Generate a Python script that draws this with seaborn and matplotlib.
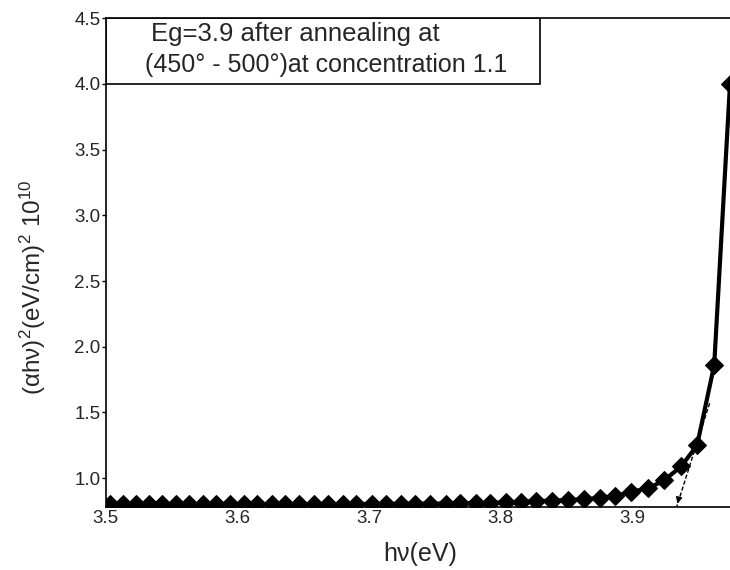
import matplotlib
matplotlib.use("Agg")
import matplotlib.pyplot as plt
import seaborn as sns
import pandas as pd
from matplotlib.patches import Rectangle

# photon energy (eV)
hv = [3.503, 3.513, 3.523, 3.533, 3.543, 3.553, 3.563, 3.574, 3.584, 3.594,
      3.605, 3.615, 3.626, 3.636, 3.647, 3.658, 3.669, 3.680, 3.690, 3.702,
      3.713, 3.724, 3.735, 3.746, 3.758, 3.769, 3.781, 3.792, 3.804, 3.815,
      3.827, 3.839, 3.851, 3.863, 3.875, 3.887, 3.899, 3.912, 3.924, 3.937,
      3.949, 3.962, 3.974]
# (alpha h nu)^2 x 1e10
ahv2 = [0.800, 0.800, 0.800, 0.800, 0.800, 0.800, 0.800, 0.800, 0.800, 0.800,
        0.800, 0.800, 0.800, 0.800, 0.800, 0.800, 0.802, 0.802, 0.802, 0.804,
        0.804, 0.804, 0.805, 0.806, 0.806, 0.808, 0.810, 0.812, 0.815, 0.820,
        0.825, 0.828, 0.834, 0.838, 0.850, 0.864, 0.896, 0.923, 0.983, 1.090,
        1.250, 1.860, 4.000]

xticks = [3.5, 3.6, 3.7, 3.8, 3.9]
yticks = [1.0, 1.5, 2.0, 2.5, 3.0, 3.5, 4.0, 4.5]
tangent_x = [3.9585, 3.9336]
tangent_y = [1.57, 0.785]
box_lines = ["Eg=3.9 after annealing at", "(450\u00b0 - 500\u00b0)at concentration 1.1"]

sns.set_theme(style="white")
plt.rcParams["font.family"] = ["Liberation Sans", "DejaVu Sans"]
plt.rcParams["mathtext.fontset"] = "custom"
plt.rcParams["mathtext.rm"] = "Liberation Sans"
plt.rcParams["mathtext.it"] = "Liberation Sans"

fig = plt.figure(figsize=(7.3, 5.7), dpi=100)
ax = fig.add_axes([0.145, 0.1105, 0.855, 0.8575])

df = pd.DataFrame({"hv": hv, "y": ahv2})
sns.lineplot(data=df, x="hv", y="y", ax=ax, color="black", linewidth=3,
             marker="D", markersize=9, markeredgecolor="black", clip_on=True)

# tangent line with arrow
ax.plot(tangent_x, tangent_y, color="black", lw=1, ls=(0, (3, 1.5)))
ax.annotate("", xy=(tangent_x[1], tangent_y[1]),
            xytext=(tangent_x[1] + 0.0015, tangent_y[1] + 0.06),
            arrowprops=dict(arrowstyle="-|>", color="black", lw=1, mutation_scale=9))

ax.set_xlim(3.5, 3.974)
ax.set_ylim(0.78, 4.5)
ax.set_xticks(xticks)
ax.set_xticklabels([f"{t:.1f}" for t in xticks], fontsize=13.5)
ax.set_yticks(yticks)
ax.set_yticklabels([f"{t:.1f}" for t in yticks], fontsize=13.5)
ax.tick_params(axis="y", length=3, width=1, pad=1, color="black", left=True)
ax.tick_params(axis="x", length=0, pad=2)

for s in ["left", "bottom", "top"]:
    ax.spines[s].set_color("black")
    ax.spines[s].set_linewidth(1.2)
ax.spines["right"].set_visible(False)

ax.set_xlabel("h\u03bd(eV)", fontsize=18)
ax.xaxis.set_label_coords(0.503, -0.072)
ax.xaxis.label.set_va("top")
ax.set_ylabel("(\u03b1h\u03bd)$^{2}$(eV/cm)$^{2}$ 10$^{10}$", fontsize=17.5)
ax.yaxis.set_label_coords(-0.093, 0.45)

# annotation box
ax.add_patch(Rectangle((3.5, 4.0), 0.33, 0.5, fill=False, edgecolor="black", lw=1.2, zorder=5))
ax.text(3.534, 4.38, box_lines[0], fontsize=18.5, va="center", ha="left")
ax.text(3.530, 4.145, box_lines[1], fontsize=18, va="center", ha="left")

fig.savefig("out.png", dpi=100)
